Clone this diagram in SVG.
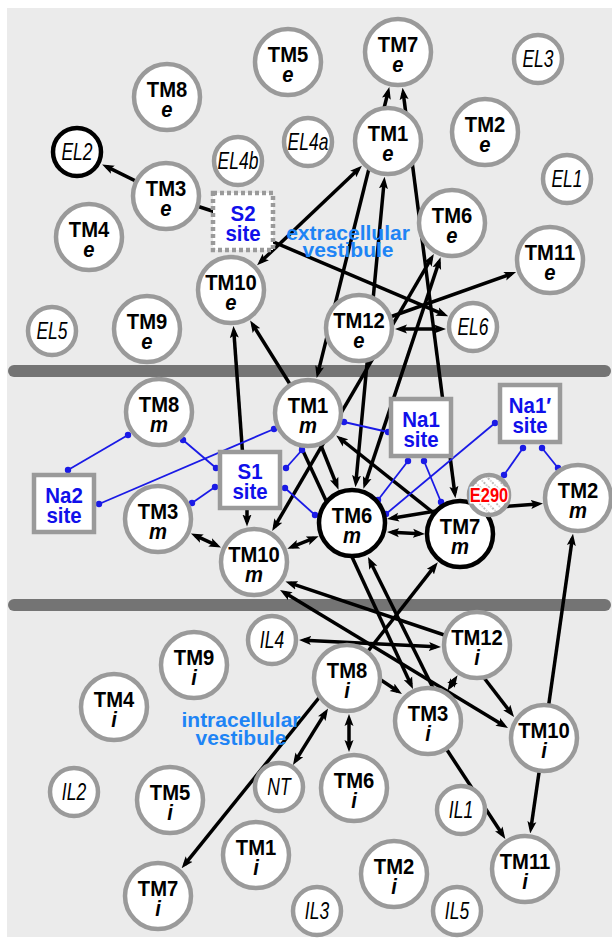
<svg xmlns="http://www.w3.org/2000/svg" width="612" height="938" viewBox="0 0 612 938">
<style>
text{font-family:"Liberation Sans",Arial,sans-serif;text-anchor:middle}
.node circle{fill:#fff;stroke:#9a9a9a;stroke-width:4.5}
.node.blk circle{stroke:#000}
.box rect{fill:#fff;stroke:#9a9a9a;stroke-width:4.5}
.box.dash rect{stroke-dasharray:4 3}
.tm{font-weight:bold;font-size:22px}
.sub{font-weight:bold;font-style:italic;font-size:22px}
.el{font-style:italic;font-size:23px}
.site{font-weight:bold;font-size:22px;fill:#1010ea}
.ves{font-weight:bold;font-size:21px;fill:#1e84f5}
.conn line{stroke:#000;stroke-width:3.5;fill:none}
.a1{marker-end:url(#ah)}
.a2{marker-start:url(#ah);marker-end:url(#ah)}
.blue line{stroke:#1a1ae6;stroke-width:1.8}
.blue circle{fill:#1a1ae6}
.e290{font-weight:bold;font-size:20px;fill:#f00;stroke:#fff;stroke-width:3;paint-order:stroke;stroke-linejoin:round}
</style>
<defs>
<marker id="ah" viewBox="0 0 12 10" refX="7" refY="5" markerWidth="12" markerHeight="10" markerUnits="userSpaceOnUse" orient="auto-start-reverse"><path d="M0,0.5 L12,5 L0,9.5 L2.5,5 Z" fill="#000"/></marker>
<pattern id="hatch" width="6" height="6" patternUnits="userSpaceOnUse" patternTransform="rotate(-45)"><rect width="6" height="6" fill="#fff"/><line x1="1" y1="0" x2="1" y2="6" stroke="#555" stroke-width="0.9" stroke-dasharray="1 1.6"/></pattern>
</defs>
<rect x="0" y="0" width="612" height="938" fill="#fff"/>
<rect x="7" y="8" width="605" height="929" fill="#ebebeb"/>
<rect x="8" y="365" width="603" height="12" rx="6" fill="#747474"/>
<rect x="8" y="599" width="603" height="12" rx="6" fill="#747474"/>

<g id="connectors" class="conn">
<line x1="166" y1="196" x2="106.6" y2="166.6" class="a1"/>
<line x1="166" y1="196" x2="243" y2="221"/>
<line x1="250" y1="232" x2="443.6" y2="314.4" class="a1"/>
<line x1="358.3" y1="169.2" x2="260.7" y2="261.8" class="a2"/>
<line x1="388.1" y1="91.8" x2="317.9" y2="373.2" class="a2"/>
<line x1="403.2" y1="92.7" x2="454.8" y2="493.3" class="a2"/>
<line x1="384.1" y1="181.8" x2="355.9" y2="482.2" class="a2"/>
<line x1="431.3" y1="258.4" x2="274.7" y2="526.6" class="a2"/>
<line x1="439" y1="261.9" x2="365" y2="484.1" class="a2"/>
<line x1="359" y1="328" x2="511.4" y2="273.8" class="a1"/>
<line x1="400" y1="329" x2="441" y2="329" class="a2"/>
<line x1="242.5" y1="452" x2="233.8" y2="330.9" class="a1"/>
<line x1="308" y1="413" x2="252.8" y2="324.7" class="a1"/>
<line x1="247" y1="505" x2="247" y2="521.5" class="a1"/>
<line x1="195.5" y1="535.7" x2="216.5" y2="545.3" class="a2"/>
<line x1="292" y1="546.9" x2="314" y2="538.1" class="a2"/>
<line x1="445" y1="509.5" x2="391.9" y2="518.2" class="a1"/>
<line x1="392" y1="532.3" x2="420" y2="533.7" class="a2"/>
<line x1="460" y1="534" x2="340.1" y2="438.5" class="a1"/>
<line x1="308" y1="413" x2="336.7" y2="485" class="a1"/>
<line x1="298" y1="440" x2="410.9" y2="684.5" class="a1"/>
<line x1="436" y1="694" x2="370.2" y2="561.5" class="a1"/>
<line x1="477" y1="646" x2="290.2" y2="583.2" class="a1"/>
<line x1="284.3" y1="592.6" x2="503.7" y2="725.4" class="a2"/>
<line x1="304" y1="640.2" x2="436" y2="646.8" class="a2"/>
<line x1="347" y1="678" x2="434.7" y2="566.2" class="a1"/>
<line x1="375" y1="676" x2="397.8" y2="691.2" class="a1"/>
<line x1="454.8" y1="679.5" x2="450.2" y2="686.5" class="a2"/>
<line x1="478" y1="670" x2="511" y2="713" class="a1"/>
<line x1="544" y1="738" x2="572.3" y2="538.6" class="a1"/>
<line x1="428" y1="721" x2="502.6" y2="834.7" class="a1"/>
<line x1="544" y1="738" x2="530.9" y2="828.5" class="a1"/>
<line x1="349" y1="719" x2="349" y2="747" class="a2"/>
<line x1="325.4" y1="712.7" x2="295.6" y2="760.7" class="a2"/>
<line x1="322" y1="694" x2="184.8" y2="864.4" class="a1"/>
<line x1="500" y1="507" x2="538" y2="503.9" class="a1"/>
</g>

<g id="site-links" class="blue">
<line x1="68" y1="470" x2="128" y2="435"/><circle cx="68" cy="470" r="3.2"/><circle cx="128" cy="435" r="3.2"/>
<line x1="99" y1="504" x2="274" y2="429"/><circle cx="99" cy="504" r="3.2"/><circle cx="274" cy="429" r="3.2"/>
<line x1="183" y1="440" x2="216" y2="468"/><circle cx="183" cy="440" r="3.2"/><circle cx="216" cy="468" r="3.2"/>
<line x1="215" y1="487" x2="192" y2="503"/><circle cx="215" cy="487" r="3.2"/><circle cx="192" cy="503" r="3.2"/>
<line x1="286" y1="468" x2="302" y2="450"/><circle cx="286" cy="468" r="3.2"/><circle cx="302" cy="450" r="3.2"/>
<line x1="285" y1="488" x2="315" y2="515"/><circle cx="285" cy="488" r="3.2"/><circle cx="315" cy="515" r="3.2"/>
<line x1="344" y1="422" x2="388" y2="432"/><circle cx="344" cy="422" r="3.2"/><circle cx="388" cy="432" r="3.2"/>
<line x1="408" y1="461" x2="378" y2="500"/><circle cx="408" cy="461" r="3.2"/><circle cx="378" cy="500" r="3.2"/>
<line x1="424" y1="461" x2="441" y2="502"/><circle cx="424" cy="461" r="3.2"/><circle cx="441" cy="502" r="3.2"/>
<line x1="495" y1="423" x2="386" y2="514"/><circle cx="495" cy="423" r="3.2"/><circle cx="386" cy="514" r="3.2"/>
<line x1="523" y1="448" x2="504" y2="475"/><circle cx="523" cy="448" r="3.2"/><circle cx="504" cy="475" r="3.2"/>
<line x1="542" y1="448" x2="558" y2="468"/><circle cx="542" cy="448" r="3.2"/><circle cx="558" cy="468" r="3.2"/>
</g>

<g id="labels">
<text class="ves" x="348" y="240">extracellular</text>
<text class="ves" x="348" y="257">vestibule</text>
<text class="ves" x="241" y="727">intracellular</text>
<text class="ves" x="241" y="745">vestibule</text>
</g>

<g id="TM5e" class="node"><circle cx="288" cy="62" r="33"/><text transform="translate(288 62) scale(.92 1)"><tspan class="tm" x="0" y="0">TM5</tspan><tspan class="sub" x="0" y="20">e</tspan></text></g>
<g id="TM7e" class="node"><circle cx="398" cy="52" r="33"/><text transform="translate(398 52) scale(.92 1)"><tspan class="tm" x="0" y="0">TM7</tspan><tspan class="sub" x="0" y="20">e</tspan></text></g>
<g id="TM8e" class="node"><circle cx="167" cy="97" r="33"/><text transform="translate(167 97) scale(.92 1)"><tspan class="tm" x="0" y="0">TM8</tspan><tspan class="sub" x="0" y="20">e</tspan></text></g>
<g id="TM1e" class="node"><circle cx="388" cy="141" r="33"/><text transform="translate(388 141) scale(.92 1)"><tspan class="tm" x="0" y="0">TM1</tspan><tspan class="sub" x="0" y="20">e</tspan></text></g>
<g id="TM2e" class="node"><circle cx="485" cy="132" r="33"/><text transform="translate(485 132) scale(.92 1)"><tspan class="tm" x="0" y="0">TM2</tspan><tspan class="sub" x="0" y="20">e</tspan></text></g>
<g id="TM3e" class="node"><circle cx="166" cy="196" r="33"/><text transform="translate(166 196) scale(.92 1)"><tspan class="tm" x="0" y="0">TM3</tspan><tspan class="sub" x="0" y="20">e</tspan></text></g>
<g id="TM4e" class="node"><circle cx="89" cy="237" r="33"/><text transform="translate(89 237) scale(.92 1)"><tspan class="tm" x="0" y="0">TM4</tspan><tspan class="sub" x="0" y="20">e</tspan></text></g>
<g id="TM6e" class="node"><circle cx="452" cy="223" r="33"/><text transform="translate(452 223) scale(.92 1)"><tspan class="tm" x="0" y="0">TM6</tspan><tspan class="sub" x="0" y="20">e</tspan></text></g>
<g id="TM11e" class="node"><circle cx="550" cy="260" r="33"/><text transform="translate(550 260) scale(.92 1)"><tspan class="tm" x="0" y="0">TM11</tspan><tspan class="sub" x="0" y="20">e</tspan></text></g>
<g id="TM10e" class="node"><circle cx="231" cy="290" r="33"/><text transform="translate(231 290) scale(.92 1)"><tspan class="tm" x="0" y="0">TM10</tspan><tspan class="sub" x="0" y="20">e</tspan></text></g>
<g id="TM12e" class="node"><circle cx="359" cy="328" r="33"/><text transform="translate(359 328) scale(.92 1)"><tspan class="tm" x="0" y="0">TM12</tspan><tspan class="sub" x="0" y="20">e</tspan></text></g>
<g id="TM9e" class="node"><circle cx="147" cy="329" r="33"/><text transform="translate(147 329) scale(.92 1)"><tspan class="tm" x="0" y="0">TM9</tspan><tspan class="sub" x="0" y="20">e</tspan></text></g>

<g id="EL3" class="node"><circle cx="538" cy="59" r="24"/><text class="el" transform="translate(538 59) scale(.76 1)" x="0" y="8">EL3</text></g>
<g id="EL4a" class="node"><circle cx="308" cy="142" r="24"/><text class="el" transform="translate(308 142) scale(.76 1)" x="0" y="8">EL4a</text></g>
<g id="EL2" class="node blk"><circle cx="77" cy="152" r="24"/><text class="el" transform="translate(77 152) scale(.76 1)" x="0" y="8">EL2</text></g>
<g id="EL4b" class="node"><circle cx="238" cy="161" r="24"/><text class="el" transform="translate(238 161) scale(.76 1)" x="0" y="8">EL4b</text></g>
<g id="EL1" class="node"><circle cx="567" cy="179" r="24"/><text class="el" transform="translate(567 179) scale(.76 1)" x="0" y="8">EL1</text></g>
<g id="EL6" class="node"><circle cx="473" cy="327" r="24"/><text class="el" transform="translate(473 327) scale(.76 1)" x="0" y="8">EL6</text></g>
<g id="EL5" class="node"><circle cx="52" cy="331" r="24"/><text class="el" transform="translate(52 331) scale(.76 1)" x="0" y="8">EL5</text></g>

<g id="S2site" class="box dash"><rect x="213" y="193" width="60" height="57"/><text class="site" transform="translate(243 221.5) scale(.93 1)"><tspan x="0" y="-1">S2</tspan><tspan x="0" y="19">site</tspan></text></g>

<g id="TM8m" class="node"><circle cx="159" cy="412" r="33"/><text transform="translate(159 412) scale(.92 1)"><tspan class="tm" x="0" y="0">TM8</tspan><tspan class="sub" x="0" y="20">m</tspan></text></g>
<g id="TM1m" class="node"><circle cx="308" cy="413" r="33"/><text transform="translate(308 413) scale(.92 1)"><tspan class="tm" x="0" y="0">TM1</tspan><tspan class="sub" x="0" y="20">m</tspan></text></g>
<g id="TM3m" class="node"><circle cx="158" cy="519" r="33"/><text transform="translate(158 519) scale(.92 1)"><tspan class="tm" x="0" y="0">TM3</tspan><tspan class="sub" x="0" y="20">m</tspan></text></g>
<g id="TM10m" class="node"><circle cx="254" cy="562" r="33"/><text transform="translate(254 562) scale(.92 1)"><tspan class="tm" x="0" y="0">TM10</tspan><tspan class="sub" x="0" y="20">m</tspan></text></g>
<g id="TM6m" class="node blk"><circle cx="352" cy="523" r="33"/><text transform="translate(352 523) scale(.92 1)"><tspan class="tm" x="0" y="0">TM6</tspan><tspan class="sub" x="0" y="20">m</tspan></text></g>
<g id="TM7m" class="node blk"><circle cx="460" cy="534" r="33"/><text transform="translate(460 534) scale(.92 1)"><tspan class="tm" x="0" y="0">TM7</tspan><tspan class="sub" x="0" y="20">m</tspan></text></g>
<g id="TM2m" class="node"><circle cx="578" cy="498" r="33"/><text transform="translate(578 498) scale(.92 1)"><tspan class="tm" x="0" y="0">TM2</tspan><tspan class="sub" x="0" y="20">m</tspan></text></g>
<g id="E290" class="node"><circle cx="489" cy="495" r="20" style="fill:url(#hatch)"/><text class="e290" transform="translate(489 495) scale(.82 1)" x="0" y="7">E290</text></g>

<g id="Na2site" class="box"><rect x="34" y="475" width="60" height="57"/><text class="site" transform="translate(64 503.5) scale(.93 1)"><tspan x="0" y="-1">Na2</tspan><tspan x="0" y="19">site</tspan></text></g>
<g id="S1site" class="box"><rect x="220" y="452" width="60" height="56"/><text class="site" transform="translate(250 480) scale(.93 1)"><tspan x="0" y="-1">S1</tspan><tspan x="0" y="19">site</tspan></text></g>
<g id="Na1site" class="box"><rect x="391" y="399" width="60" height="57"/><text class="site" transform="translate(421 427.5) scale(.93 1)"><tspan x="0" y="-1">Na1</tspan><tspan x="0" y="19">site</tspan></text></g>
<g id="Na1psite" class="box"><rect x="500" y="385" width="60" height="57"/><text class="site" transform="translate(530 413.5) scale(.93 1)"><tspan x="0" y="-1">Na1′</tspan><tspan x="0" y="19">site</tspan></text></g>

<g id="IL4" class="node"><circle cx="272" cy="640" r="24"/><text class="el" transform="translate(272 640) scale(.76 1)" x="0" y="8">IL4</text></g>
<g id="NT" class="node"><circle cx="279" cy="787" r="24"/><text class="el" transform="translate(279 787) scale(.76 1)" x="0" y="8">NT</text></g>
<g id="IL2" class="node"><circle cx="74" cy="792" r="24"/><text class="el" transform="translate(74 792) scale(.76 1)" x="0" y="8">IL2</text></g>
<g id="IL1" class="node"><circle cx="461" cy="810" r="24"/><text class="el" transform="translate(461 810) scale(.76 1)" x="0" y="8">IL1</text></g>
<g id="IL3" class="node"><circle cx="317" cy="911" r="24"/><text class="el" transform="translate(317 911) scale(.76 1)" x="0" y="8">IL3</text></g>
<g id="IL5" class="node"><circle cx="457" cy="911" r="24"/><text class="el" transform="translate(457 911) scale(.76 1)" x="0" y="8">IL5</text></g>

<g id="TM12i" class="node"><circle cx="477" cy="645" r="33"/><text transform="translate(477 645) scale(.92 1)"><tspan class="tm" x="0" y="0">TM12</tspan><tspan class="sub" x="0" y="20">i</tspan></text></g>
<g id="TM9i" class="node"><circle cx="194" cy="665" r="33"/><text transform="translate(194 665) scale(.92 1)"><tspan class="tm" x="0" y="0">TM9</tspan><tspan class="sub" x="0" y="20">i</tspan></text></g>
<g id="TM8i" class="node"><circle cx="347" cy="678" r="33"/><text transform="translate(347 678) scale(.92 1)"><tspan class="tm" x="0" y="0">TM8</tspan><tspan class="sub" x="0" y="20">i</tspan></text></g>
<g id="TM4i" class="node"><circle cx="114" cy="707" r="33"/><text transform="translate(114 707) scale(.92 1)"><tspan class="tm" x="0" y="0">TM4</tspan><tspan class="sub" x="0" y="20">i</tspan></text></g>
<g id="TM3i" class="node"><circle cx="428" cy="721" r="33"/><text transform="translate(428 721) scale(.92 1)"><tspan class="tm" x="0" y="0">TM3</tspan><tspan class="sub" x="0" y="20">i</tspan></text></g>
<g id="TM10i" class="node"><circle cx="544" cy="738" r="33"/><text transform="translate(544 738) scale(.92 1)"><tspan class="tm" x="0" y="0">TM10</tspan><tspan class="sub" x="0" y="20">i</tspan></text></g>
<g id="TM5i" class="node"><circle cx="170" cy="800" r="33"/><text transform="translate(170 800) scale(.92 1)"><tspan class="tm" x="0" y="0">TM5</tspan><tspan class="sub" x="0" y="20">i</tspan></text></g>
<g id="TM6i" class="node"><circle cx="354" cy="788" r="33"/><text transform="translate(354 788) scale(.92 1)"><tspan class="tm" x="0" y="0">TM6</tspan><tspan class="sub" x="0" y="20">i</tspan></text></g>
<g id="TM1i" class="node"><circle cx="256" cy="855" r="33"/><text transform="translate(256 855) scale(.92 1)"><tspan class="tm" x="0" y="0">TM1</tspan><tspan class="sub" x="0" y="20">i</tspan></text></g>
<g id="TM11i" class="node"><circle cx="525" cy="869" r="33"/><text transform="translate(525 869) scale(.92 1)"><tspan class="tm" x="0" y="0">TM11</tspan><tspan class="sub" x="0" y="20">i</tspan></text></g>
<g id="TM2i" class="node"><circle cx="394" cy="874" r="33"/><text transform="translate(394 874) scale(.92 1)"><tspan class="tm" x="0" y="0">TM2</tspan><tspan class="sub" x="0" y="20">i</tspan></text></g>
<g id="TM7i" class="node"><circle cx="158" cy="896" r="33"/><text transform="translate(158 896) scale(.92 1)"><tspan class="tm" x="0" y="0">TM7</tspan><tspan class="sub" x="0" y="20">i</tspan></text></g>
</svg>
